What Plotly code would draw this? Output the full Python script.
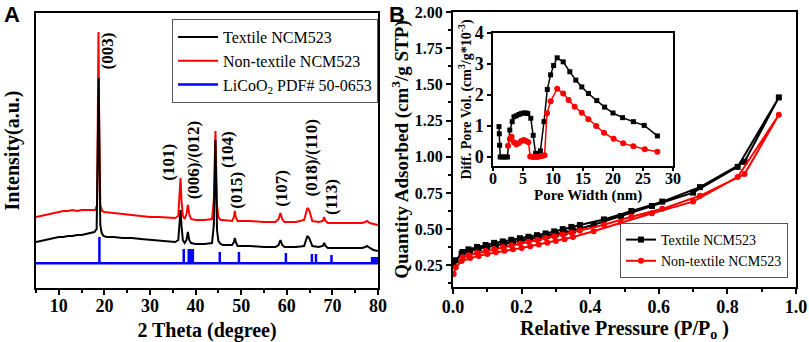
import plotly.graph_objects as go

# ---------------- Panel A : XRD data ----------------
tt_textile = [5, 6, 7, 8, 9, 10, 11, 12, 13, 14, 15, 16, 17, 17.8, 18.3, 18.6, 18.75, 18.9, 19.1, 19.4, 19.8,
              20.5, 22, 24, 26, 28, 30, 32, 34, 35.5, 36.2, 36.5, 36.7, 36.9, 37.2, 37.6, 38.0, 38.3, 38.6, 39.0,
              40, 42, 43.6, 44.0, 44.2, 44.35, 44.5, 44.7, 45.0, 45.5, 46, 48, 48.4, 48.6, 48.8, 49.2, 52, 55,
              57.5, 58.2, 58.6, 59.0, 59.5, 62, 63.8, 64.2, 64.5, 64.9, 65.2, 65.6, 67, 67.9, 68.2, 68.5, 69,
              72, 75, 76.5, 77.2, 77.6, 78.2, 79, 80]
int_textile = [58, 59, 60, 61, 62, 63, 63, 64, 64, 65, 65, 66, 67, 68, 71, 150, 222, 150, 75, 67, 64,
               63, 63, 62, 62, 61, 60, 59, 58, 58, 60, 75, 90, 75, 60, 57, 60, 68, 60, 57,
               56, 56, 57, 75, 120, 160, 120, 70, 59, 56, 55, 55, 58, 62, 58, 54, 54, 53,
               53, 55, 60, 55, 53, 53, 54, 60, 64, 62, 58, 54, 53, 54, 57, 54, 52,
               52, 52, 52, 53, 54, 52, 50, 49]

tt_non = [5, 6, 7, 8, 9, 10, 11, 12, 13, 14, 15, 16, 17, 18.0, 18.4, 18.6, 18.7, 18.85, 19.1, 19.5, 20,
          22, 24, 26, 28, 30, 32, 34, 35.5, 36.2, 36.5, 36.7, 36.9, 37.2, 37.6, 38.0, 38.3, 38.6, 39.0,
          40, 42, 43.6, 44.0, 44.2, 44.35, 44.5, 44.7, 45.0, 45.5, 46, 48, 48.4, 48.6, 48.8, 49.2, 52, 55,
          57.5, 58.2, 58.6, 59.0, 59.5, 62, 63.8, 64.2, 64.5, 64.9, 65.2, 65.6, 67, 67.9, 68.2, 68.5, 69,
          72, 75, 76.5, 77.2, 77.6, 78.2, 79, 80]
int_non = [83, 84, 85, 86, 87, 88, 89, 89, 90, 89, 90, 90, 90, 90, 95, 180, 268, 180, 95, 89, 88,
           87, 86, 85, 84, 83, 83, 82, 82, 84, 105, 122, 100, 84, 81, 86, 95, 86, 81,
           80, 80, 81, 100, 140, 169, 135, 95, 83, 80, 80, 79, 83, 89, 83, 79, 79, 78,
           78, 81, 87, 81, 78, 78, 80, 87, 92, 90, 85, 79, 78, 79, 83, 79, 77,
           77, 77, 77, 78, 79, 77, 76, 75]

ref_pos = [18.9, 37.4, 38.5, 39.0, 39.4, 45.3, 49.5, 59.8, 65.5, 66.4, 69.8, 78.7, 79.0, 79.3, 79.6, 79.9]
ref_top = [63, 51, 51, 51, 51, 48, 48, 47, 46, 46, 45, 43, 43, 43, 43, 43]
ref_base = 36.7

peak_labels = ["(003)", "(101)", "(006)/(012)", "(104)", "(015)", "(107)", "(018)/(110)", "(113)"]

# ---------------- Panel B : N2 isotherm ----------------
p_ads = [0.002, 0.008, 0.025, 0.05, 0.075, 0.10, 0.125, 0.15, 0.175, 0.20, 0.225, 0.25, 0.275, 0.30,
         0.325, 0.35, 0.41, 0.49, 0.58, 0.70, 0.83, 0.95]
p_des = [0.85, 0.72, 0.61, 0.52, 0.44, 0.37, 0.345, 0.32, 0.295, 0.27, 0.245, 0.22, 0.195, 0.17,
         0.145, 0.12, 0.095, 0.07, 0.045, 0.028]
q_textile_ads = [0.26, 0.285, 0.33, 0.35, 0.365, 0.377, 0.388, 0.398, 0.408, 0.418, 0.43, 0.44, 0.452,
                 0.463, 0.476, 0.49, 0.53, 0.59, 0.66, 0.752, 0.93, 1.41]
q_textile_des = [0.965, 0.79, 0.69, 0.625, 0.567, 0.528, 0.515, 0.50, 0.484, 0.47, 0.458, 0.447, 0.437,
                 0.426, 0.415, 0.405, 0.39, 0.377, 0.36, 0.342]
q_non_ads = [0.19, 0.235, 0.28, 0.30, 0.315, 0.328, 0.34, 0.35, 0.36, 0.37, 0.382, 0.393, 0.405, 0.417,
             0.43, 0.445, 0.485, 0.545, 0.61, 0.69, 0.86, 1.29]
q_non_des = [0.88, 0.73, 0.64, 0.585, 0.53, 0.49, 0.475, 0.462, 0.45, 0.438, 0.425, 0.413, 0.40, 0.388,
             0.376, 0.363, 0.35, 0.336, 0.32, 0.305]

# inset: pore size distribution
w_textile = [1.0, 1.05, 1.1, 1.2, 1.6, 2.0, 2.4, 2.8, 3.2, 3.5, 3.9, 4.3, 4.7, 5.1, 5.5, 5.8, 6.3, 6.7,
             7.1, 7.5, 7.9, 8.5, 9.05, 9.6, 10.1, 10.7, 11.7, 12.8, 13.8, 14.8, 15.9, 17.3, 18.6, 20.0,
             21.6, 23.4, 25.2, 27.4]
v_textile = [0.98, 0.75, 0.38, 0.0, 0.0, 0.0, 0.0, 0.87, 1.14, 1.30, 1.33, 1.37, 1.40, 1.42, 1.42, 1.40,
             1.25, 0.7, 0.12, 0.05, 0.2, 1.14, 2.18, 2.65, 2.95, 3.2, 3.07, 2.75, 2.48, 2.26, 2.05, 1.82,
             1.61, 1.42, 1.27, 1.14, 1.02, 0.68]
w_non = [2.5, 2.8, 3.1, 3.5, 3.9, 4.3, 4.7, 5.1, 5.5, 5.9, 6.2, 6.6, 7.0, 7.4, 7.8, 8.2, 8.6, 9.0, 9.6,
         10.7, 11.7, 12.6, 13.6, 14.8, 15.9, 17.2, 18.5, 20.1, 21.7, 23.4, 25.3, 27.4]
v_non = [0.36, 0.58, 0.65, 0.48, 0.40, 0.45, 0.52, 0.55, 0.52, 0.48, 0.02, 0.0, 0.0, 0.0, 0.02, 0.03, 0.06,
         1.41, 1.8, 2.2, 2.05, 1.84, 1.62, 1.43, 1.22, 1.0, 0.78, 0.59, 0.44, 0.35, 0.25, 0.17]

# ---------------- figure ----------------
SERIF = "Liberation Serif"
BLACK, RED, BLUE = "#000000", "#ff0000", "#0000ff"
W, H = 809, 342

def px(x):
    return x / W

def py(y):
    return 1 - y / H

def tfont(size):
    return dict(family=SERIF, size=size, color="black", weight="bold")

fig = go.Figure()

# Panel A traces
fig.add_trace(go.Scatter(x=tt_non, y=int_non, mode="lines", line=dict(color=RED, width=2),
                         name="Non-textile NCM523", legendrank=2, xaxis="x", yaxis="y", legend="legend"))
fig.add_trace(go.Scatter(x=tt_textile, y=int_textile, mode="lines", line=dict(color=BLACK, width=2),
                         name="Textile NCM523", legendrank=1, xaxis="x", yaxis="y", legend="legend"))
xs, ys = [5, 80, None], [ref_base, ref_base, None]
for p, t in zip(ref_pos, ref_top):
    xs += [p, p, None]
    ys += [ref_base, t, None]
fig.add_trace(go.Scatter(x=xs, y=ys, mode="lines", line=dict(color=BLUE, width=2.5),
                         name="LiCoO<sub>2</sub> PDF# 50-0653", legendrank=3, xaxis="x", yaxis="y",
                         legend="legend"))

# Panel B traces
fig.add_trace(go.Scatter(x=p_ads + p_des, y=q_textile_ads + q_textile_des, mode="lines+markers",
                         line=dict(color=BLACK, width=2), marker=dict(symbol="square", size=6, color=BLACK),
                         name="Textile NCM523", xaxis="x2", yaxis="y2", legend="legend2"))
fig.add_trace(go.Scatter(x=p_ads + p_des, y=q_non_ads + q_non_des, mode="lines+markers",
                         line=dict(color=RED, width=2), marker=dict(symbol="circle", size=6, color=RED),
                         name="Non-textile NCM523", xaxis="x2", yaxis="y2", legend="legend2"))

# inset traces
fig.add_trace(go.Scatter(x=w_textile, y=v_textile, mode="lines+markers", line=dict(color=BLACK, width=1.5),
                         marker=dict(symbol="square", size=5, color=BLACK), showlegend=False,
                         xaxis="x3", yaxis="y3"))
fig.add_trace(go.Scatter(x=w_non, y=v_non, mode="lines+markers", line=dict(color=RED, width=1.5),
                         marker=dict(symbol="circle", size=6, color=RED), showlegend=False,
                         xaxis="x3", yaxis="y3"))

axis_common = dict(showline=True, linecolor="black", mirror=True, showgrid=False, zeroline=False,
                   ticks="outside", tickcolor="black", tickwidth=1.5, automargin=False,
                   tickfont=tfont(18))

fig.update_layout(
    template="none",
    width=W, height=H, margin=dict(l=0, r=0, t=0, b=0, pad=0), autosize=False,
    paper_bgcolor="white", plot_bgcolor="white",
    font=dict(family=SERIF, color="black"),
    xaxis=dict(axis_common, domain=[px(36), px(378)], range=[5, 80], tick0=10, dtick=10, ticklen=5,
               linewidth=2, ticklabelstandoff=-5,
               minor=dict(ticks="outside", dtick=5, ticklen=3, tickcolor="black"),
               title=dict(text="<b>2 Theta (degree)</b>", font=dict(family=SERIF, size=20), standoff=8),
               anchor="y"),
    yaxis=dict(axis_common, domain=[py(288), py(13)], range=[12, 287], showticklabels=False, ticks="",
               linewidth=2,
               title=dict(text="<b>Intensity(a.u.)</b>", font=dict(family=SERIF, size=20), standoff=9),
               anchor="x"),
    xaxis2=dict(axis_common, domain=[px(453), px(796)], range=[0, 1.0], tick0=0, dtick=0.2, tickformat=".1f",
                ticklen=5, linewidth=2, ticklabelstandoff=-3,
                minor=dict(ticks="outside", dtick=0.1, ticklen=3, tickcolor="black"),
                title=dict(text="<b>Relative Pressure (P/P<sub>o</sub> )</b>", font=dict(family=SERIF, size=20),
                           standoff=6),
                anchor="y2"),
    yaxis2=dict(axis_common, domain=[py(287), py(12)], range=[0.1, 2.0], tick0=0.25, dtick=0.25,
                tickformat=".2f", ticklen=5, linewidth=2, tickfont=tfont(16),
                minor=dict(ticks="outside", dtick=0.125, ticklen=3, tickcolor="black"),
                title=dict(text="<b>Quantity Adsorbed (cm<sup>3</sup>/g STP)</b>",
                           font=dict(family=SERIF, size=19), standoff=1),
                anchor="x2"),
    xaxis3=dict(axis_common, domain=[px(493), px(673)], range=[0, 30], tick0=0, dtick=5, ticklen=3,
                linewidth=1.5, tickfont=tfont(16), ticklabelstandoff=-6, anchor="y3"),
    yaxis3=dict(axis_common, domain=[py(166), py(33)], range=[-0.29, 4], tick0=0, dtick=1, ticklen=4,
                linewidth=1.5, tickfont=tfont(18),
                title=dict(text="<b>Diff. Pore Vol. (cm<sup>3</sup>/g*10<sup>-3</sup>)</b>",
                           font=dict(family=SERIF, size=14), standoff=0),
                anchor="x3"),
    legend=dict(x=px(378), y=py(19), xanchor="right", yanchor="top", bgcolor="white",
                bordercolor="#555555", borderwidth=1, font=dict(family=SERIF, size=16, color="black"),
                tracegroupgap=0, itemwidth=40),
    legend2=dict(x=px(788), y=py(278), xanchor="right", yanchor="bottom", bgcolor="white",
                 bordercolor="#555555", borderwidth=1, font=dict(family=SERIF, size=14, color="black"),
                 tracegroupgap=0, itemwidth=30),
)

# inset x-axis title
fig.add_annotation(x=px(588), y=py(195), xref="paper", yref="paper", text="<b>Pore Width (nm)</b>",
                   showarrow=False, xanchor="center", yanchor="middle",
                   font=dict(family=SERIF, size=15, color="black"))

# peak index labels (rotated) in panel A
label_x = [20.68, 34.0, 39.5, 46.9, 48.8, 58.7, 65.2, 69.7]
label_y = [249, 137.5, 140, 150, 110, 112, 142, 103]
for t, x, y in zip(peak_labels, label_x, label_y):
    fig.add_annotation(x=x, y=y, xref="x", yref="y", text="<b>" + t + "</b>", textangle=-90,
                       showarrow=False, font=dict(family=SERIF, size=17, color="black"),
                       xanchor="center", yanchor="middle")

# panel letters
fig.add_annotation(x=px(12), y=py(14), xref="paper", yref="paper", text="<b>A</b>", showarrow=False,
                   xanchor="center", yanchor="middle",
                   font=dict(family="Liberation Sans", size=22, color="black"))
fig.add_annotation(x=px(397), y=py(14), xref="paper", yref="paper", text="<b>B</b>", showarrow=False,
                   xanchor="center", yanchor="middle",
                   font=dict(family="Liberation Sans", size=22, color="black"))

fig.write_html("out.html", config={"displayModeBar": False},
               post_script="document.body.style.margin='0';document.body.style.overflow='hidden';")
